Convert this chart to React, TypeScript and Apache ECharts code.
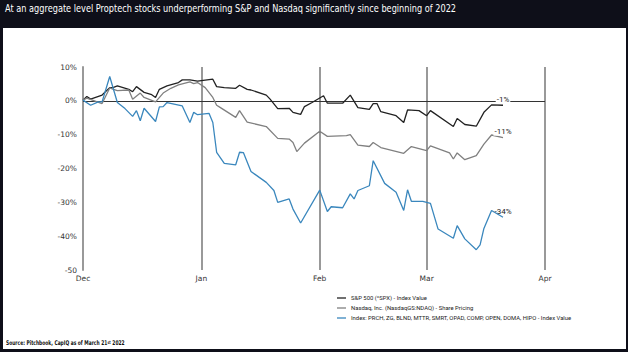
import React, { useEffect, useRef } from "react";
import * as echarts from "echarts";

const monthNames = ["Jan", "Feb", "Mar", "Apr", "May", "Jun", "Jul", "Aug", "Sep", "Oct", "Nov", "Dec"];

const spDates = ["2021-12-01","2021-12-02","2021-12-03","2021-12-06","2021-12-08","2021-12-09","2021-12-10","2021-12-13","2021-12-14","2021-12-15","2021-12-17","2021-12-19","2021-12-20","2021-12-21","2021-12-23","2021-12-26","2021-12-27","2021-12-29","2021-12-31","2022-01-02","2022-01-04","2022-01-05","2022-01-07","2022-01-10","2022-01-11","2022-01-13","2022-01-14","2022-01-18","2022-01-19","2022-01-21","2022-01-24","2022-01-25","2022-01-27","2022-01-28","2022-01-30","2022-02-02","2022-02-03","2022-02-07","2022-02-09","2022-02-11","2022-02-14","2022-02-15","2022-02-16","2022-02-17","2022-02-21","2022-02-23","2022-02-24","2022-02-27","2022-03-01","2022-03-02","2022-03-08","2022-03-09","2022-03-11","2022-03-14","2022-03-16","2022-03-18","2022-03-21"];
const spValues = [0.2,1.3,0.5,1.7,3.9,4.0,4.4,3.4,2.7,4.2,2.5,1.8,1.0,3.4,4.4,5.4,6.2,6.2,5.8,6.1,6.4,4.2,3.9,3.7,4.6,3.4,3.2,1.7,0.5,-2.3,-2.2,-3.4,-4.0,-1.7,-0.5,1.5,-0.7,-0.7,1.7,-2.0,-2.5,-0.8,-0.8,-3.2,-4.4,-6.4,-2.7,-2.9,-4.4,-2.9,-7.6,-5.2,-7.0,-7.5,-3.4,-1.2,-1.3];

const ndDates = ["2021-12-01","2021-12-02","2021-12-06","2021-12-08","2021-12-09","2021-12-10","2021-12-13","2021-12-14","2021-12-16","2021-12-17","2021-12-20","2021-12-22","2021-12-24","2021-12-26","2021-12-29","2021-12-30","2021-12-31","2022-01-02","2022-01-04","2022-01-05","2022-01-06","2022-01-10","2022-01-11","2022-01-13","2022-01-18","2022-01-21","2022-01-24","2022-01-25","2022-01-26","2022-01-28","2022-02-01","2022-02-03","2022-02-08","2022-02-09","2022-02-11","2022-02-14","2022-02-15","2022-02-17","2022-02-23","2022-02-25","2022-03-01","2022-03-02","2022-03-07","2022-03-08","2022-03-09","2022-03-11","2022-03-14","2022-03-16","2022-03-18","2022-03-21"];
const ndValues = [0.2,0.8,-0.8,3.8,3.4,3.0,3.2,0.5,2.3,1.0,-0.3,2.3,3.7,4.7,5.6,5.1,5.4,3.9,1.0,-1.3,-2.0,-4.9,-2.9,-6.3,-7.6,-11.1,-11.3,-12.3,-15.0,-12.5,-9.0,-10.5,-10.3,-10.0,-13.1,-13.5,-12.3,-13.8,-15.5,-13.5,-14.7,-13.3,-15.4,-17.2,-15.4,-17.4,-16.2,-12.8,-10.1,-10.9];

const ptDates = ["2021-12-01","2021-12-03","2021-12-05","2021-12-06","2021-12-08","2021-12-10","2021-12-12","2021-12-14","2021-12-15","2021-12-16","2021-12-17","2021-12-20","2021-12-21","2021-12-22","2021-12-23","2021-12-27","2021-12-29","2021-12-30","2021-12-31","2022-01-03","2022-01-04","2022-01-05","2022-01-07","2022-01-10","2022-01-11","2022-01-12","2022-01-14","2022-01-18","2022-01-20","2022-01-21","2022-01-24","2022-01-25","2022-01-27","2022-02-01","2022-02-03","2022-02-04","2022-02-07","2022-02-09","2022-02-10","2022-02-11","2022-02-14","2022-02-15","2022-02-18","2022-02-21","2022-02-23","2022-02-24","2022-02-25","2022-02-28","2022-03-02","2022-03-04","2022-03-08","2022-03-09","2022-03-11","2022-03-14","2022-03-15","2022-03-16","2022-03-18","2022-03-21"];
const ptValues = [0.2,-1.3,-0.3,-0.3,7.2,-0.5,-2.3,-4.6,-2.9,-5.9,-2.2,-6.1,-1.8,-1.7,-0.5,-1.5,-6.4,-3.4,-4.1,-3.7,-6.4,-15.2,-18.5,-18.9,-15.2,-15.3,-20.9,-24.1,-26.5,-30.0,-29.0,-32.0,-36.1,-26.4,-32.7,-31.3,-31.6,-27.5,-29.0,-26.5,-25.1,-17.7,-24.4,-27.0,-32.4,-26.3,-29.7,-29.7,-30.3,-37.9,-40.6,-36.9,-40.8,-44.0,-42.6,-37.7,-32.4,-34.4];

const seriesNames = [
  "S&P 500 (^SPX) - Index Value",
  "Nasdaq, Inc. (NasdaqGS:NDAQ) - Share Pricing",
  "Index: PRCH, ZG, BLND, MTTR, SMRT, OPAD, COMP, OPEN, DOMA, HIPO - Index Value",
];
const endLabels = ["-1%", "-11%", "-34%"];
const axisStart = "2021-12-01";
const axisEnd = "2022-04-01";

const titleText = "At an aggregate level Proptech stocks underperforming S&P and Nasdaq significantly since beginning of 2022";
const sourceText = "Source: Pitchbook, CapIQ as of March 21{sup|st} 2022";

const ts = (s: string) => {
  const [y, m, d] = s.split("-").map(Number);
  return new Date(y, m - 1, d).getTime();
};

const baseFont = "'DejaVu Sans', sans-serif";
const legendFont = "Roboto, 'Liberation Sans', sans-serif";

export default function App() {
  const ref = useRef<HTMLDivElement>(null);
  useEffect(() => {
    if (!ref.current) return;
    const chart = echarts.init(ref.current, null, { renderer: "svg" });
    const colors = ["#222222", "#808080", "#3a87bd"];
    const sets = [
      [spDates, spValues],
      [ndDates, ndValues],
      [ptDates, ptValues],
    ] as [string[], number[]][];
    const series: any[] = sets.map(([dates, vals], i) => {
      const data = dates.map((d, j) => [ts(d), vals[j]]);
      const last = data[data.length - 1];
      const s: any = {
        name: seriesNames[i],
        type: "line",
        data,
        showSymbol: false,
        lineStyle: { color: colors[i], width: 1.3 },
        itemStyle: { color: colors[i] },
        z: 3 + i,
        markPoint: {
          symbol: "circle",
          symbolSize: 0,
          silent: true,
          data: [{ coord: last, value: endLabels[i] }],
          label: {
            show: true,
            position: "top",
            distance: 2,
            formatter: "{c}",
            fontSize: 8,
            color: "#222",
            fontFamily: legendFont,
            backgroundColor: "#fff",
            padding: [0, 1],
          },
        },
      };
      if (i === 0) {
        s.markLine = {
          symbol: ["none", "none"],
          silent: true,
          label: { show: false },
          lineStyle: { color: "#333", width: 1, type: "solid" },
          data: [{ yAxis: 0 }],
          z: 1,
        };
      }
      return s;
    });
    chart.setOption({
      animation: false,
      backgroundColor: "#0e0f19",
      graphic: [
        {
          type: "rect",
          z: -10,
          shape: { x: 3, y: 28, width: 623, height: 321 },
          style: { fill: "#ffffff" },
          silent: true,
        },
        {
          type: "text",
          x: 5,
          y: 8.5,
          scaleX: 0.745,
          style: {
            text: titleText,
            fontSize: 11,
            fontFamily: baseFont,
            fill: "#ffffff",
            verticalAlign: "middle",
          },
        },
        {
          type: "text",
          x: 6,
          y: 343,
          scaleX: 0.68,
          style: {
            text: sourceText,
            fontSize: 6.5,
            fontWeight: "bold",
            fontFamily: baseFont,
            fill: "#111",
            verticalAlign: "middle",
            rich: { sup: { fontSize: 4.5, fontWeight: "bold", verticalAlign: "top", fill: "#111", fontFamily: baseFont } },
          },
        },
      ],
      legend: {
        orient: "vertical",
        left: 332,
        top: 289,
        icon: "rect",
        itemWidth: 9,
        itemHeight: 1.3,
        itemGap: 2,
        textStyle: { fontSize: 5.9, color: "#222", fontFamily: legendFont, lineHeight: 8 },
        data: seriesNames,
      },
      grid: { left: 83, top: 67, width: 462, height: 203 },
      xAxis: {
        type: "time",
        min: ts(axisStart),
        max: ts(axisEnd),
        splitNumber: 4,
        axisLine: { show: false },
        axisTick: { show: false },
        axisLabel: {
          fontSize: 7.5,
          color: "#333",
          fontFamily: baseFont,
          margin: 4,
          showMinLabel: true,
          showMaxLabel: true,
          formatter: (v: number) => monthNames[new Date(v).getMonth()],
        },
        splitLine: { show: true, lineStyle: { color: "#999", width: 2 } },
      },
      yAxis: {
        type: "value",
        min: -50,
        max: 10,
        interval: 10,
        axisLine: { show: true, lineStyle: { color: "#999", width: 2 } },
        axisTick: { show: false },
        splitLine: { show: false },
        axisLabel: {
          fontSize: 7.5,
          color: "#333",
          fontFamily: baseFont,
          margin: 6,
          formatter: (v: number) => (v === -50 ? "-50" : v + "%"),
        },
      },
      series,
    });
    return () => chart.dispose();
  }, []);
  return <div ref={ref} style={{ position: "absolute", left: 0, top: 0, width: 628, height: 352 }} />;
}
